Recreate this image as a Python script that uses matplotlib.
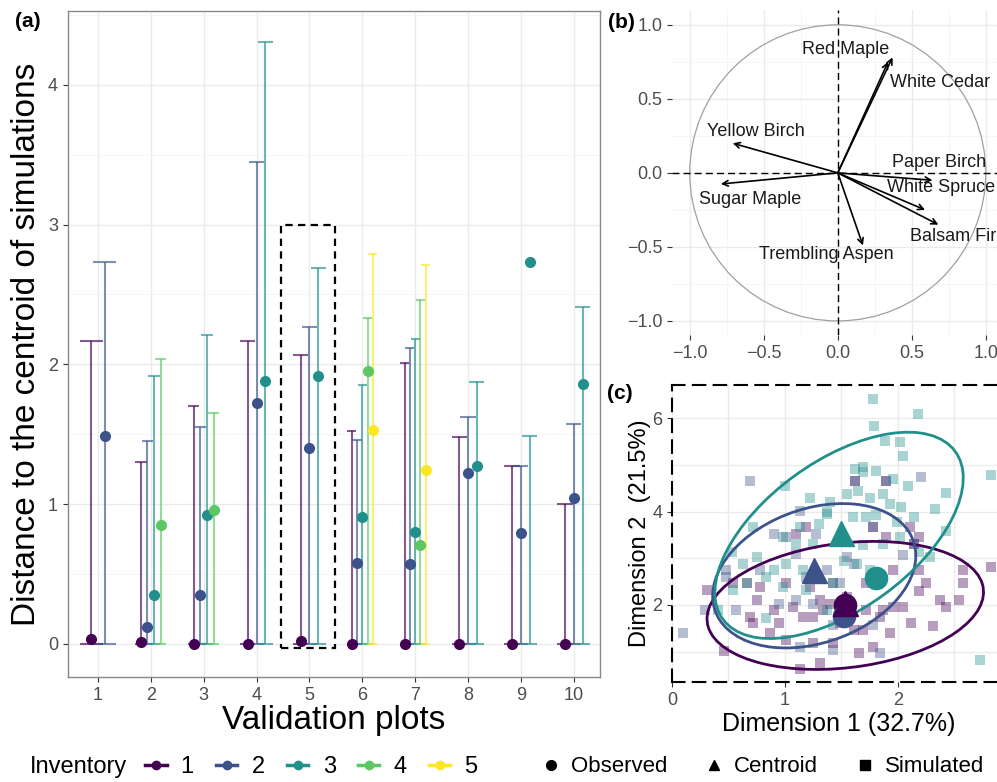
import numpy as np
import matplotlib
matplotlib.use("Agg")
import matplotlib.pyplot as plt
from matplotlib.patches import Rectangle, Circle, Ellipse
from matplotlib.lines import Line2D
from matplotlib.ticker import FuncFormatter

plt.rcParams['font.family'] = ['Liberation Sans', 'DejaVu Sans']

# colours of the five inventories (viridis)
inv_colors = ["#440154", "#3B528B", "#21908C", "#5DC863", "#FDE725"]

# ---- panel (a) data ----
plots = [1, 2, 3, 4, 5, 6, 7, 8, 9, 10]
plot_inventories = [
    [1, 2], [1, 2, 3, 4], [1, 2, 3, 4], [1, 2, 3], [1, 2, 3],
    [1, 2, 3, 4, 5], [1, 2, 3, 4, 5], [1, 2, 3], [1, 2, 3], [1, 2, 3],
]
upper_limits = [
    [2.17, 2.73], [1.30, 1.45, 1.92, 2.04], [1.70, 1.55, 2.21, 1.65],
    [2.17, 3.45, 4.31], [2.07, 2.27, 2.69], [1.52, 1.46, 1.85, 2.33, 2.79],
    [2.01, 2.12, 2.18, 2.46, 2.71], [1.48, 1.62, 1.87], [1.27, 1.27, 1.49],
    [1.00, 1.57, 2.41],
]
observed = [
    [0.03, 1.49], [0.01, 0.12, 0.35, 0.85], [0.0, 0.35, 0.92, 0.96],
    [0.0, 1.72, 1.88], [0.02, 1.40, 1.92], [0.0, 0.58, 0.91, 1.95, 1.53],
    [0.0, 0.57, 0.80, 0.71, 1.24], [0.0, 1.22, 1.27], [0.0, 0.79, 2.73],
    [0.0, 1.04, 1.86],
]

# ---- panel (b) data ----
species = ["Red Maple", "White Cedar", "Yellow Birch", "Sugar Maple",
           "Paper Birch", "White Spruce", "Balsam Fir", "Trembling Aspen"]
load_x = [0.37, 0.34, -0.71, -0.79, 0.64, 0.59, 0.68, 0.17]
load_y = [0.78, 0.75, 0.20, -0.075, -0.05, -0.25, -0.35, -0.49]
label_x = [0.05, 0.35, -0.55, -0.59, 0.365, 0.33, 0.49, -0.08]
label_y = [0.83, 0.61, 0.28, -0.18, 0.07, -0.10, -0.43, -0.55]
label_ha = ["center", "left", "center", "center", "left", "left", "left", "center"]

# ---- panel (c) data ----
sim1_x = [0.31, 0.46, 0.69, 0.72, 0.75, 0.90, 0.95, 0.87, 1.01, 1.07, 1.16, 1.25,
          1.13, 1.31, 1.25, 1.31, 1.40, 1.49, 1.61, 1.69, 1.78, 1.84, 1.93, 1.96,
          2.05, 2.12, 2.19, 2.31, 2.37, 2.43, 2.54, 2.58, 2.58, 2.83, 2.11, 2.19,
          2.14, 1.90, 1.78, 1.19, 1.10, 2.19, 2.25, 1.96, 1.43, 1.55, 1.22, 0.66,
          0.54, 0.78, 1.01, 1.72, 1.87, 1.72, 1.34, 1.43, 1.66, 1.62, 1.90]
sim1_y = [2.32, 1.01, 1.75, 1.61, 2.10, 1.89, 1.61, 1.40, 1.26, 1.96, 1.75, 1.75,
          0.62, 0.76, 1.18, 2.10, 2.03, 1.61, 1.47, 1.47, 1.11, 1.75, 1.40, 1.96,
          1.96, 1.61, 2.29, 1.54, 2.10, 1.96, 2.10, 2.46, 2.74, 2.81, 3.67, 3.45,
          3.31, 3.45, 3.67, 3.67, 3.52, 2.74, 2.46, 2.74, 2.46, 2.18, 2.39, 2.46,
          2.46, 2.39, 2.46, 2.46, 1.89, 1.89, 1.89, 1.18, 0.97, 4.66, 4.66]
sim2_x = [0.69, 1.62, 1.90, 2.21, 0.10, 0.29, 0.57, 0.48, 0.90, 1.01, 1.10, 0.78,
          1.19, 1.37, 1.49, 1.61, 0.95, 1.10, 1.25, 1.13, 1.43, 1.84, 1.43, 1.78,
          2.05, 2.14, 0.48, 1.13, 1.28, 1.78, 1.55]
sim2_y = [4.66, 4.66, 4.66, 4.73, 1.40, 1.89, 1.89, 2.74, 3.52, 3.45, 3.10, 2.74,
          2.60, 2.74, 2.46, 2.88, 2.03, 2.10, 2.03, 1.11, 1.04, 0.97, 1.56, 1.56,
          3.06, 3.31, 2.60, 4.02, 3.52, 3.67, 3.03]
sim3_x = [1.78, 2.18, 1.79, 1.89, 2.02, 2.05, 2.83, 1.62, 1.69, 1.69, 1.81, 1.96,
          2.09, 2.43, 2.33, 1.22, 1.40, 1.55, 1.65, 1.75, 1.87, 1.93, 2.03, 1.37,
          1.60, 1.72, 1.81, 1.99, 2.14, 1.13, 1.30, 0.72, 0.98, 1.10, 1.25, 1.69,
          1.87, 2.02, 2.43, 2.19, 2.29, 0.53, 0.63, 0.75, 0.90, 1.01, 1.16, 1.52,
          1.64, 1.75, 0.54, 0.66, 0.83, 0.98, 1.19, 1.43, 0.41, 0.83, 1.37, 2.73,
          1.00, 1.37]
sim3_y = [6.42, 6.09, 5.83, 5.51, 5.50, 5.19, 4.78, 4.91, 4.95, 4.84, 4.87, 4.70,
          4.55, 4.39, 4.06, 4.30, 4.20, 4.37, 4.45, 4.30, 4.37, 4.16, 4.09, 3.95,
          3.88, 3.88, 3.92, 3.77, 3.88, 3.67, 3.74, 3.67, 3.45, 3.31, 3.31, 3.28,
          3.31, 3.45, 3.59, 3.13, 3.03, 3.13, 2.88, 3.03, 2.74, 2.88, 2.74, 2.95,
          2.88, 2.74, 2.32, 2.46, 2.60, 2.39, 2.32, 2.46, 1.89, 1.72, 1.89, 0.83,
          4.55, 3.98]

centroid_x = [1.53, 1.26, 1.50]
centroid_y = [2.04, 2.74, 3.55]
obs_x = [1.53, 1.52, 1.81]
obs_y = [2.00, 1.77, 2.57]
ell_cx = [1.535, 1.26, 1.48]
ell_cy = [1.99, 2.625, 3.49]
ell_sxx = [1.50, 0.81, 1.21]
ell_syy = [1.88, 2.39, 4.88]
ell_sxy = [0.35, 0.39, 1.35]

tick_col = "#4D4D4D"
grid_col = "#EBEBEB"

fig = plt.figure(figsize=(9.97, 7.82), dpi=100)

# ================= panel (a) =================
ax = fig.add_axes([0.068, 0.134, 0.534, 0.852])
for p, invs, ups, obs in zip(plots, plot_inventories, upper_limits, observed):
    n = len(invs)
    for j, inv in enumerate(invs):
        xpos = p + (j - (n - 1) / 2) * 0.5 / n
        cw = 0.43 / n
        c = inv_colors[inv - 1]
        ax.vlines(xpos, 0, ups[j], color=c, lw=1.5, alpha=0.65, zorder=3)
        ax.hlines([0, ups[j]], xpos - cw, xpos + cw, color=c, lw=1.5, alpha=0.65, zorder=3)
        ax.plot(xpos, obs[j], "o", color=c, markersize=7, zorder=4)

ax.add_patch(Rectangle((4.47, -0.03), 1.02, 3.03, fill=False, ec="black",
                       lw=1.6, ls=(0, (3.3, 2.4)), zorder=5))
ax.set_xlim(0.43, 10.5)
ax.set_ylim(-0.24, 4.53)
ax.set_xticks(plots)
ax.set_yticks([0, 1, 2, 3, 4])
ax.set_yticks([0.5, 1.5, 2.5, 3.5, 4.5], minor=True)
ax.grid(True, which="major", color=grid_col, lw=1.0, zorder=0)
ax.grid(True, which="minor", axis="y", color="#F4F4F4", lw=0.6, zorder=0)
ax.tick_params(which="minor", length=0)
ax.tick_params(which="major", length=3.5, color="#333333", labelcolor=tick_col, labelsize=13)
ax.set_axisbelow(True)
for s in ax.spines.values():
    s.set_color("#888888")
    s.set_linewidth(1.0)
ax.set_xlabel("Validation plots", fontsize=24, labelpad=1)
ax.set_ylabel("Distance to the centroid of simulations", fontsize=24, labelpad=4)
fig.text(0.015, 0.972, "(a)", fontsize=15, fontweight="bold", va="center")

# ================= panel (b) =================
bx = fig.add_axes([672 / 997, 1 - 335 / 782, 333 / 997, 325 / 782])
bx.set_xlim(-1.12, 1.13)
bx.set_ylim(-1.095, 1.10)
bx.set_xticks([-1.0, -0.5, 0.0, 0.5, 1.0])
bx.set_yticks([-1.0, -0.5, 0.0, 0.5, 1.0])
bx.set_xticks([-0.75, -0.25, 0.25, 0.75], minor=True)
bx.set_yticks([-0.75, -0.25, 0.25, 0.75], minor=True)
fmt = FuncFormatter(lambda v, pos: f"{v:.1f}".replace("-", "\u2212"))
bx.xaxis.set_major_formatter(fmt)
bx.yaxis.set_major_formatter(fmt)
bx.grid(True, which="major", color=grid_col, lw=1.0)
bx.grid(True, which="minor", color="#F4F4F4", lw=0.6)
bx.tick_params(which="minor", length=0)
bx.tick_params(which="major", length=3.5, color="#333333", labelcolor=tick_col, labelsize=13)
for s in bx.spines.values():
    s.set_visible(False)
bx.set_axisbelow(True)
bx.add_patch(Circle((0, 0), 1, fill=False, ec="#A0A0A0", lw=0.9))
bx.axhline(0, color="black", lw=1.0, ls=(0, (5, 3)))
bx.axvline(0, color="black", lw=1.0, ls=(0, (5, 3)))
for name, lx, ly, tx, ty, ha in zip(species, load_x, load_y, label_x, label_y, label_ha):
    bx.annotate("", xy=(lx, ly), xytext=(0, 0),
                arrowprops=dict(arrowstyle="->", color="black", lw=1.2,
                                shrinkA=0, shrinkB=0, mutation_scale=10))
    bx.text(tx, ty, name, fontsize=13, ha=ha, va="center", color="#1a1a1a")
fig.text(608 / 997, 1 - 22 / 782, "(b)", fontsize=15, fontweight="bold", va="center")

# ================= panel (c) =================
cx = fig.add_axes([672 / 997, 1 - 682 / 782, 333 / 997, 297 / 782])
cx.set_xlim(0, 2.95)
cx.set_ylim(0.35, 6.71)
cx.set_xticks([0, 1, 2])
cx.set_yticks([2, 4, 6])
cx.set_xticks([0.5, 1.5, 2.5], minor=True)
cx.set_yticks([1, 3, 5], minor=True)
cx.grid(True, which="both", color=grid_col, lw=1.0)
cx.tick_params(which="minor", length=0)
cx.tick_params(which="major", length=3.5, color="#333333", labelcolor=tick_col, labelsize=13)
cx.set_axisbelow(True)
for s in cx.spines.values():
    s.set_color("black")
    s.set_linewidth(1.5)
    s.set_linestyle((0, (6, 4)))

sims = [(sim1_x, sim1_y), (sim2_x, sim2_y), (sim3_x, sim3_y)]
for k, (sx, sy) in enumerate(sims):
    cx.scatter(sx, sy, marker="s", s=62, color=inv_colors[k], alpha=0.38,
               linewidths=0, zorder=2)
for k in range(3):
    S = np.array([[ell_sxx[k], ell_sxy[k]], [ell_sxy[k], ell_syy[k]]])
    vals, vecs = np.linalg.eigh(S)
    ang = np.degrees(np.arctan2(vecs[1, 1], vecs[0, 1]))
    cx.add_patch(Ellipse((ell_cx[k], ell_cy[k]), 2 * np.sqrt(vals[1]),
                         2 * np.sqrt(vals[0]), angle=ang, fill=False,
                         ec=inv_colors[k], lw=2.0, zorder=3))
for k in range(3):
    cx.plot(obs_x[k], obs_y[k], "o", color=inv_colors[k], markersize=16, zorder=4)
for k in range(3):
    cx.plot(centroid_x[k], centroid_y[k], "^", color=inv_colors[k], markersize=18, zorder=5)
cx.set_xlabel("Dimension 1 (32.7%)", fontsize=18, labelpad=2)
cx.set_ylabel("Dimension 2  (21.5%)", fontsize=17, labelpad=1)
fig.text(607 / 997, 1 - 393 / 782, "(c)", fontsize=15, fontweight="bold", va="center")

# ================= legends =================
fig.text(30 / 997, 1 - 767 / 782, "Inventory", fontsize=17, va="center")
inv_handles = [Line2D([], [], color=c, marker="o", markersize=6, lw=2.5) for c in inv_colors]
fig.legend(inv_handles, ["1", "2", "3", "4", "5"], loc="center left",
           bbox_to_anchor=(124 / 997, 1 - 767 / 782), ncol=5, frameon=False,
           fontsize=17, handlelength=0.9, handletextpad=0.6, columnspacing=0.95)
shape_handles = [Line2D([], [], color="black", marker=m, markersize=7, lw=0)
                 for m in ["o", "^", "s"]]
fig.legend(shape_handles, ["Observed", "Centroid", "Simulated"], loc="center left",
           bbox_to_anchor=(520 / 997, 1 - 767 / 782), ncol=3, frameon=False,
           fontsize=16, handlelength=1.0, handletextpad=0.4, columnspacing=1.6)

fig.savefig("out.png", dpi=100)
